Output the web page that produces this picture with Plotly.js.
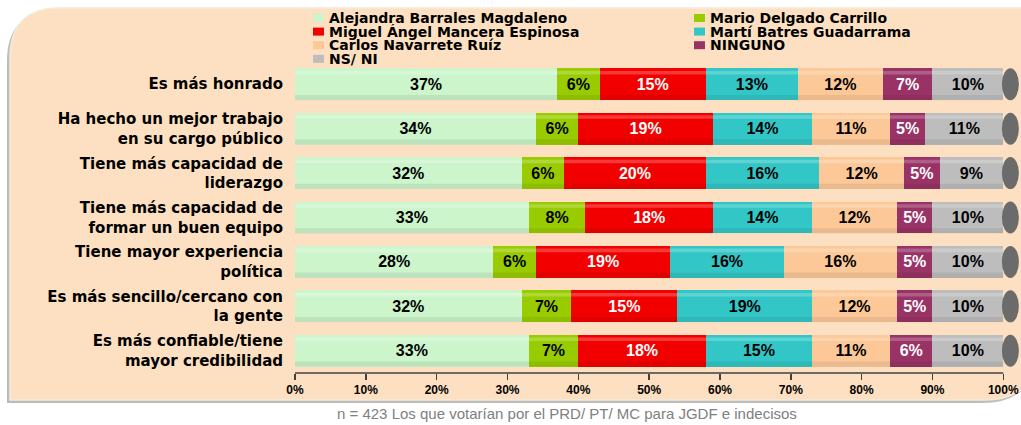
<!DOCTYPE html>
<html><head><meta charset="utf-8">
<script src="https://cdn.plot.ly/plotly-3.0.1.min.js"></script>
<style>html,body{margin:0;padding:0;background:#fff;}#chart{width:1021px;height:425px;}</style>
</head><body><div id="chart"></div>
<script>
const categories = ["Es más honrado", "Ha hecho un mejor trabajo<br>en su cargo público", "Tiene más capacidad de<br>liderazgo", "Tiene más capacidad de<br>formar un buen equipo", "Tiene mayor experiencia<br>política", "Es más sencillo/cercano con<br>la gente", "Es más confiable/tiene<br>mayor credibilidad"];
const seriesNames = ["Alejandra Barrales Magdaleno", "Mario Delgado Carrillo", "Miguel Ángel Mancera Espinosa", "Martí Batres Guadarrama", "Carlos Navarrete Ruíz", "NINGUNO", "NS/ NI"];
const barrales = [37, 34, 32, 33, 28, 32, 33];
const delgado = [6, 6, 6, 8, 6, 7, 7];
const mancera = [15, 19, 20, 18, 19, 15, 18];
const batres = [13, 14, 16, 14, 16, 19, 15];
const navarrete = [12, 11, 12, 12, 16, 12, 11];
const ninguno = [7, 5, 5, 5, 5, 5, 6];
const nsni = [10, 11, 9, 10, 10, 10, 10];
const tickVals = [0, 10, 20, 30, 40, 50, 60, 70, 80, 90, 100];
const tickText = ["0%", "10%", "20%", "30%", "40%", "50%", "60%", "70%", "80%", "90%", "100%"];
const footnote = "n = 423 Los que votarían por el PRD/ PT/ MC para JGDF e indecisos";

const seriesValues = [barrales, delgado, mancera, batres, navarrete, ninguno, nsni];
const colors = ["#ccf5cc", "#99cc00", "#f20000", "#33c6c6", "#fcc898", "#993366", "#bdbdbd"];
const textColors = ["#000", "#000", "#fff", "#000", "#000", "#fff", "#000"];

const W = 1021, L = 295, T = 62, B = 373;
const plotW = W - L, plotH = B - T;
const px = x => ((x - L) / plotW).toFixed(4);
const py = y => ((B - y) / plotH).toFixed(4);

const traces = seriesValues.map((vals, i) => ({
  type: "bar", orientation: "h", name: seriesNames[i],
  y: categories, x: vals,
  marker: {color: colors[i], line: {width: 0}},
  width: 0.72,
  text: vals.map(v => v + "%"),
  textposition: "inside", insidetextanchor: "middle", constraintext: "none",
  textfont: {family: "Liberation Sans, Arial, sans-serif", size: 16, weight: 700, color: textColors[i]},
  hoverinfo: "skip", showlegend: false
}));

const totals = categories.map((c, j) => seriesValues.reduce((s, arr) => s + arr[j], 0));

const shapes = [];
const panelPath = (dx, dy) => `M ${px(10+dx)} ${py(400+dy)} L ${px(10+dx)} ${py(58+dy)} Q ${px(10+dx)} ${py(8+dy)} ${px(60+dx)} ${py(8+dy)} L ${px(1040)} ${py(8+dy)} L ${px(1040)} ${py(360+dy)} Q ${px(1030+dx)} ${py(400+dy)} ${px(985+dx)} ${py(400+dy)} Z`;
shapes.push({type: "path", xref: "paper", yref: "paper", path: panelPath(-3, 3), fillcolor: "#bcbcbc", line: {width: 0}, layer: "below"});
shapes.push({type: "path", xref: "paper", yref: "paper", path: panelPath(0, 0), fillcolor: "#fde0c1", line: {color: "#f3ead8", width: 1.5}, layer: "below"});
shapes.push({type: "line", xref: "x", yref: "paper", x0: tickVals[0], x1: tickVals[tickVals.length-1], y0: 0, y1: 0, line: {color: "#404040", width: 1.5}});

categories.forEach((c, j) => {
  shapes.push({type: "rect", xref: "x", yref: "y", x0: 0, x1: totals[j], y0: j - 0.30, y1: j - 0.22,
    fillcolor: "rgba(255,255,255,0.22)", line: {width: 0}, layer: "above"});
  shapes.push({type: "rect", xref: "x", yref: "y", x0: 0, x1: totals[j], y0: j + 0.24, y1: j + 0.36,
    fillcolor: "rgba(0,0,0,0.07)", line: {width: 0}, layer: "above"});
  shapes.push({type: "circle", xref: "x", yref: "y", x0: totals[j] - 0.2, x1: totals[j] + 2.2,
    y0: j - 0.36, y1: j + 0.36, fillcolor: "#6b6b6b", line: {width: 0}, layer: "above"});
});

const annotations = [];
seriesNames.forEach((name, i) => {
  const col = i % 2, row = Math.floor(i / 2);
  const mx = col === 0 ? 313 : 694;
  const cy = 18 + row * 13.6;
  shapes.push({type: "rect", xref: "paper", yref: "paper", x0: px(mx), x1: px(mx + 11), y0: py(cy + 4), y1: py(cy - 4), fillcolor: colors[i], line: {width: 0}});
  annotations.push({xref: "paper", yref: "paper", x: px(mx + 14), y: py(cy), xanchor: "left", yanchor: "middle",
    text: name, showarrow: false, font: {family: "DejaVu Sans, sans-serif", size: 14, weight: 700, color: "#000"}});
});
annotations.push({xref: "paper", yref: "paper", x: px(567), y: py(414), xanchor: "center", yanchor: "middle",
  text: footnote, showarrow: false, font: {family: "Liberation Sans, Arial, sans-serif", size: 15, color: "#808080"}});

const layout = {
  width: W, height: 425,
  margin: {l: L, r: 0, t: T, b: 425 - B, pad: 0},
  paper_bgcolor: "#ffffff", plot_bgcolor: "rgba(0,0,0,0)",
  barmode: "stack", bargap: 0.28,
  showlegend: false,
  xaxis: {range: [0, 102.5], tickvals: tickVals, ticktext: tickText, ticks: "outside", ticklen: 6, tickwidth: 1.5, tickcolor: "#404040",
    showgrid: false, zeroline: false, showline: false, fixedrange: true,
    tickfont: {family: "Liberation Sans, Arial, sans-serif", size: 12, weight: 700, color: "#000"}},
  yaxis: {type: "category", range: [6.5, -0.5], showgrid: false, zeroline: false, showline: false, ticks: "",
    ticklabelstandoff: 11,
    tickfont: {family: "DejaVu Sans, sans-serif", size: 15, weight: 700, color: "#000"}},
  shapes: shapes,
  annotations: annotations,
  font: {family: "Liberation Sans, Arial, sans-serif"}
};
Plotly.newPlot("chart", traces, layout, {staticPlot: true, displayModeBar: false});
</script></body></html>
